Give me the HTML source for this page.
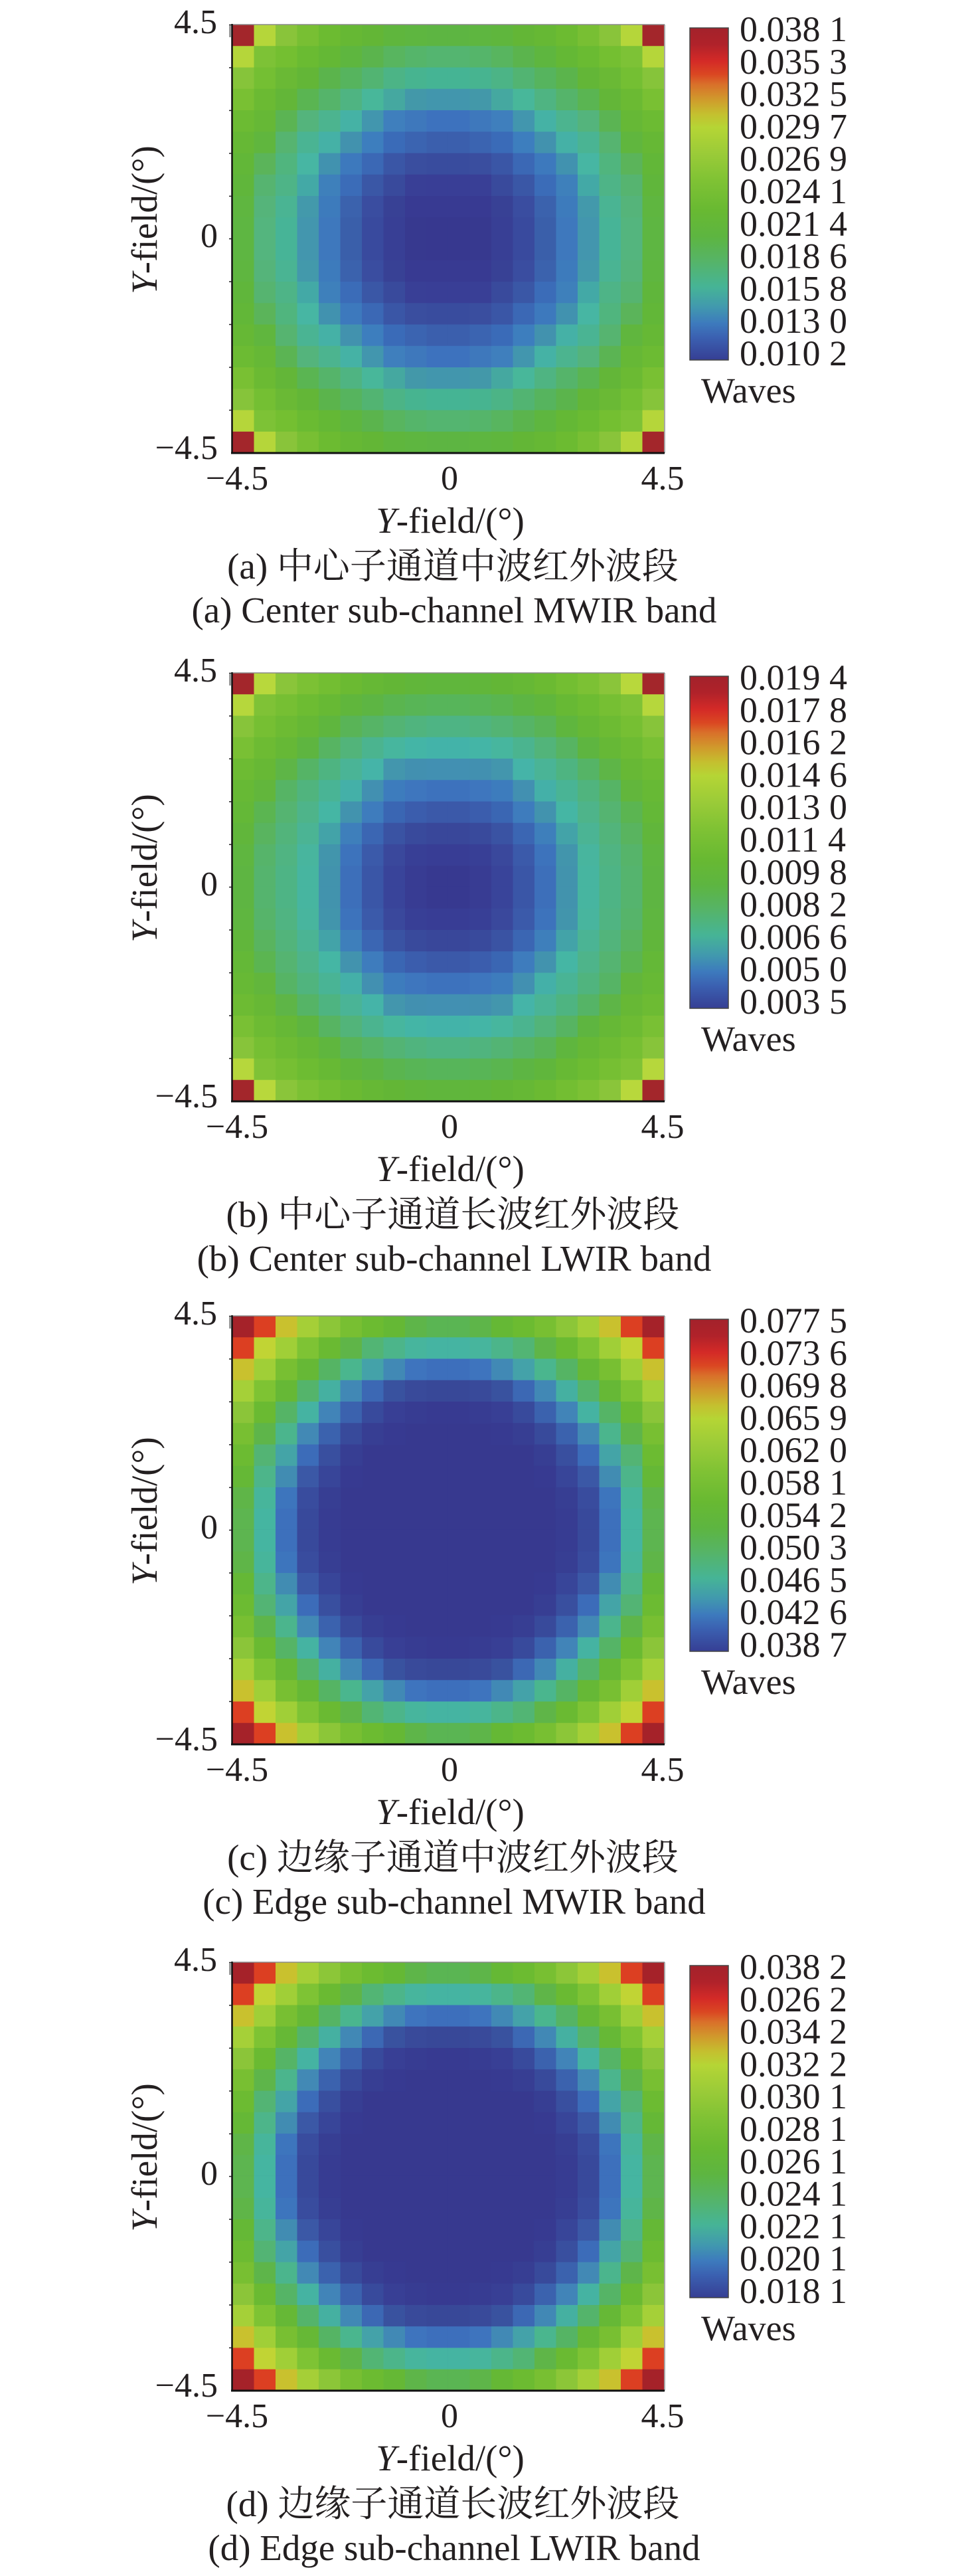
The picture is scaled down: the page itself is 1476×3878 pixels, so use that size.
<!DOCTYPE html>
<html>
<head>
<meta charset="utf-8">
<style>
html,body{margin:0;padding:0;background:#fff;}
svg{display:block;}
text{font-family:"Liberation Serif","Noto Serif CJK SC",serif;fill:#231f20;}
.tk{font-size:52px;}
.cb{font-size:54px;}
.ti{font-size:55px;}
</style>
</head>
<body>
<svg width="1476" height="3878" viewBox="0 0 1476 3878" xmlns="http://www.w3.org/2000/svg">
<defs>
<linearGradient id="cmap" x1="0" y1="0" x2="0" y2="1">
<stop offset="0" stop-color="#a3222b"/>
<stop offset="0.05" stop-color="#b0222a"/>
<stop offset="0.10" stop-color="#d42a27"/>
<stop offset="0.14" stop-color="#da4722"/>
<stop offset="0.17" stop-color="#d9702a"/>
<stop offset="0.22" stop-color="#cf9e2c"/>
<stop offset="0.26" stop-color="#c4c02f"/>
<stop offset="0.30" stop-color="#b5d535"/>
<stop offset="0.38" stop-color="#9acb38"/>
<stop offset="0.46" stop-color="#7fc234"/>
<stop offset="0.55" stop-color="#68b932"/>
<stop offset="0.63" stop-color="#5db541"/>
<stop offset="0.70" stop-color="#56b466"/>
<stop offset="0.78" stop-color="#46b496"/>
<stop offset="0.84" stop-color="#4199ae"/>
<stop offset="0.89" stop-color="#3d7abd"/>
<stop offset="0.93" stop-color="#3b62b2"/>
<stop offset="1" stop-color="#363f94"/>
</linearGradient>

<g id="qa">
<rect x="0" y="0" width="1.03" height="1.03" fill="#a3262b"/><rect x="1" y="0" width="1.03" height="1.03" fill="#b5d63a"/><rect x="2" y="0" width="1.03" height="1.03" fill="#89c43a"/><rect x="3" y="0" width="1.03" height="1.03" fill="#78bf33"/><rect x="4" y="0" width="1.03" height="1.03" fill="#6cbb31"/><rect x="5" y="0" width="1.03" height="1.03" fill="#66b834"/><rect x="6" y="0" width="1.03" height="1.03" fill="#63b636"/><rect x="7" y="0" width="1.03" height="1.03" fill="#5fb63d"/><rect x="8" y="0" width="1.03" height="1.03" fill="#5eb640"/><rect x="9" y="0" width="1.03" height="1.03" fill="#5db542"/>
<rect x="0" y="1" width="1.03" height="1.03" fill="#b5d63a"/><rect x="1" y="1" width="1.03" height="1.03" fill="#7dc236"/><rect x="2" y="1" width="1.03" height="1.03" fill="#74bf31"/><rect x="3" y="1" width="1.03" height="1.03" fill="#6abb32"/><rect x="4" y="1" width="1.03" height="1.03" fill="#64b835"/><rect x="5" y="1" width="1.03" height="1.03" fill="#5eb63f"/><rect x="6" y="1" width="1.03" height="1.03" fill="#5bb44d"/><rect x="7" y="1" width="1.03" height="1.03" fill="#58b55f"/><rect x="8" y="1" width="1.03" height="1.03" fill="#55b56a"/><rect x="9" y="1" width="1.03" height="1.03" fill="#54b570"/>
<rect x="0" y="2" width="1.03" height="1.03" fill="#86c43a"/><rect x="1" y="2" width="1.03" height="1.03" fill="#74bf33"/><rect x="2" y="2" width="1.03" height="1.03" fill="#6ab935"/><rect x="3" y="2" width="1.03" height="1.03" fill="#63b637"/><rect x="4" y="2" width="1.03" height="1.03" fill="#5bb44c"/><rect x="5" y="2" width="1.03" height="1.03" fill="#56b45e"/><rect x="6" y="2" width="1.03" height="1.03" fill="#52b472"/><rect x="7" y="2" width="1.03" height="1.03" fill="#4cb486"/><rect x="8" y="2" width="1.03" height="1.03" fill="#47b490"/><rect x="9" y="2" width="1.03" height="1.03" fill="#45b494"/>
<rect x="0" y="3" width="1.03" height="1.03" fill="#79c033"/><rect x="1" y="3" width="1.03" height="1.03" fill="#6bba33"/><rect x="2" y="3" width="1.03" height="1.03" fill="#63b638"/><rect x="3" y="3" width="1.03" height="1.03" fill="#5ab552"/><rect x="4" y="3" width="1.03" height="1.03" fill="#55b46a"/><rect x="5" y="3" width="1.03" height="1.03" fill="#4fb482"/><rect x="6" y="3" width="1.03" height="1.03" fill="#48b79a"/><rect x="7" y="3" width="1.03" height="1.03" fill="#45a8a0"/><rect x="8" y="3" width="1.03" height="1.03" fill="#4398a9"/><rect x="9" y="3" width="1.03" height="1.03" fill="#4296ad"/>
<rect x="0" y="4" width="1.03" height="1.03" fill="#6cbb33"/><rect x="1" y="4" width="1.03" height="1.03" fill="#66b836"/><rect x="2" y="4" width="1.03" height="1.03" fill="#5bb453"/><rect x="3" y="4" width="1.03" height="1.03" fill="#54b47c"/><rect x="4" y="4" width="1.03" height="1.03" fill="#4cb48f"/><rect x="5" y="4" width="1.03" height="1.03" fill="#45b2a5"/><rect x="6" y="4" width="1.03" height="1.03" fill="#4296ae"/><rect x="7" y="4" width="1.03" height="1.03" fill="#3f7fbd"/><rect x="8" y="4" width="1.03" height="1.03" fill="#3e78bc"/><rect x="9" y="4" width="1.03" height="1.03" fill="#3d72be"/>
<rect x="0" y="5" width="1.03" height="1.03" fill="#66b835"/><rect x="1" y="5" width="1.03" height="1.03" fill="#60b63e"/><rect x="2" y="5" width="1.03" height="1.03" fill="#56b470"/><rect x="3" y="5" width="1.03" height="1.03" fill="#4ab493"/><rect x="4" y="5" width="1.03" height="1.03" fill="#45b1a6"/><rect x="5" y="5" width="1.03" height="1.03" fill="#4292ae"/><rect x="6" y="5" width="1.03" height="1.03" fill="#3d7ebe"/><rect x="7" y="5" width="1.03" height="1.03" fill="#3a6bb8"/><rect x="8" y="5" width="1.03" height="1.03" fill="#3b64b1"/><rect x="9" y="5" width="1.03" height="1.03" fill="#3b5fad"/>
<rect x="0" y="6" width="1.03" height="1.03" fill="#62b738"/><rect x="1" y="6" width="1.03" height="1.03" fill="#5bb45a"/><rect x="2" y="6" width="1.03" height="1.03" fill="#50b57e"/><rect x="3" y="6" width="1.03" height="1.03" fill="#47b6a3"/><rect x="4" y="6" width="1.03" height="1.03" fill="#4192af"/><rect x="5" y="6" width="1.03" height="1.03" fill="#3d79bd"/><rect x="6" y="6" width="1.03" height="1.03" fill="#3b68b5"/><rect x="7" y="6" width="1.03" height="1.03" fill="#3a56a6"/><rect x="8" y="6" width="1.03" height="1.03" fill="#3a4e9f"/><rect x="9" y="6" width="1.03" height="1.03" fill="#394c9e"/>
<rect x="0" y="7" width="1.03" height="1.03" fill="#60b63b"/><rect x="1" y="7" width="1.03" height="1.03" fill="#56b470"/><rect x="2" y="7" width="1.03" height="1.03" fill="#4eb487"/><rect x="3" y="7" width="1.03" height="1.03" fill="#43a9a6"/><rect x="4" y="7" width="1.03" height="1.03" fill="#3e80bb"/><rect x="5" y="7" width="1.03" height="1.03" fill="#3b6cb8"/><rect x="6" y="7" width="1.03" height="1.03" fill="#3a57a6"/><rect x="7" y="7" width="1.03" height="1.03" fill="#394a9c"/><rect x="8" y="7" width="1.03" height="1.03" fill="#393f96"/><rect x="9" y="7" width="1.03" height="1.03" fill="#393e96"/>
<rect x="0" y="8" width="1.03" height="1.03" fill="#5fb640"/><rect x="1" y="8" width="1.03" height="1.03" fill="#55b47a"/><rect x="2" y="8" width="1.03" height="1.03" fill="#4ab493"/><rect x="3" y="8" width="1.03" height="1.03" fill="#4399ab"/><rect x="4" y="8" width="1.03" height="1.03" fill="#3d7bbc"/><rect x="5" y="8" width="1.03" height="1.03" fill="#3b62ad"/><rect x="6" y="8" width="1.03" height="1.03" fill="#3a4da0"/><rect x="7" y="8" width="1.03" height="1.03" fill="#384195"/><rect x="8" y="8" width="1.03" height="1.03" fill="#383a92"/><rect x="9" y="8" width="1.03" height="1.03" fill="#383a92"/>
<rect x="0" y="9" width="1.03" height="1.03" fill="#5eb642"/><rect x="1" y="9" width="1.03" height="1.03" fill="#54b57e"/><rect x="2" y="9" width="1.03" height="1.03" fill="#47b497"/><rect x="3" y="9" width="1.03" height="1.03" fill="#4396ae"/><rect x="4" y="9" width="1.03" height="1.03" fill="#3e78bd"/><rect x="5" y="9" width="1.03" height="1.03" fill="#3a5faa"/><rect x="6" y="9" width="1.03" height="1.03" fill="#394a9e"/><rect x="7" y="9" width="1.03" height="1.03" fill="#383f95"/><rect x="8" y="9" width="1.03" height="1.03" fill="#37398f"/><rect x="9" y="9" width="1.03" height="1.03" fill="#37388f"/>
</g>

<g id="qb">
<rect x="0" y="0" width="1.03" height="1.03" fill="#a3262b"/><rect x="1" y="0" width="1.03" height="1.03" fill="#b8d83c"/><rect x="2" y="0" width="1.03" height="1.03" fill="#8ac53a"/><rect x="3" y="0" width="1.03" height="1.03" fill="#7cc134"/><rect x="4" y="0" width="1.03" height="1.03" fill="#73be32"/><rect x="5" y="0" width="1.03" height="1.03" fill="#6bba32"/><rect x="6" y="0" width="1.03" height="1.03" fill="#66b835"/><rect x="7" y="0" width="1.03" height="1.03" fill="#63b636"/><rect x="8" y="0" width="1.03" height="1.03" fill="#61b63a"/><rect x="9" y="0" width="1.03" height="1.03" fill="#60b63c"/>
<rect x="0" y="1" width="1.03" height="1.03" fill="#b6d73c"/><rect x="1" y="1" width="1.03" height="1.03" fill="#7fc236"/><rect x="2" y="1" width="1.03" height="1.03" fill="#76bf33"/><rect x="3" y="1" width="1.03" height="1.03" fill="#6dbc32"/><rect x="4" y="1" width="1.03" height="1.03" fill="#67b934"/><rect x="5" y="1" width="1.03" height="1.03" fill="#60b63c"/><rect x="6" y="1" width="1.03" height="1.03" fill="#5db543"/><rect x="7" y="1" width="1.03" height="1.03" fill="#5ab54f"/><rect x="8" y="1" width="1.03" height="1.03" fill="#58b556"/><rect x="9" y="1" width="1.03" height="1.03" fill="#57b55a"/>
<rect x="0" y="2" width="1.03" height="1.03" fill="#87c43a"/><rect x="1" y="2" width="1.03" height="1.03" fill="#76bf33"/><rect x="2" y="2" width="1.03" height="1.03" fill="#6dbb33"/><rect x="3" y="2" width="1.03" height="1.03" fill="#66b835"/><rect x="4" y="2" width="1.03" height="1.03" fill="#5fb63e"/><rect x="5" y="2" width="1.03" height="1.03" fill="#59b457"/><rect x="6" y="2" width="1.03" height="1.03" fill="#56b466"/><rect x="7" y="2" width="1.03" height="1.03" fill="#53b474"/><rect x="8" y="2" width="1.03" height="1.03" fill="#50b47e"/><rect x="9" y="2" width="1.03" height="1.03" fill="#4eb484"/>
<rect x="0" y="3" width="1.03" height="1.03" fill="#79c034"/><rect x="1" y="3" width="1.03" height="1.03" fill="#6dbb33"/><rect x="2" y="3" width="1.03" height="1.03" fill="#66b836"/><rect x="3" y="3" width="1.03" height="1.03" fill="#5eb540"/><rect x="4" y="3" width="1.03" height="1.03" fill="#57b462"/><rect x="5" y="3" width="1.03" height="1.03" fill="#52b47a"/><rect x="6" y="3" width="1.03" height="1.03" fill="#4bb48f"/><rect x="7" y="3" width="1.03" height="1.03" fill="#47b69e"/><rect x="8" y="3" width="1.03" height="1.03" fill="#44b5a6"/><rect x="9" y="3" width="1.03" height="1.03" fill="#43b3a9"/>
<rect x="0" y="4" width="1.03" height="1.03" fill="#6dbb33"/><rect x="1" y="4" width="1.03" height="1.03" fill="#67b835"/><rect x="2" y="4" width="1.03" height="1.03" fill="#5eb547"/><rect x="3" y="4" width="1.03" height="1.03" fill="#55b466"/><rect x="4" y="4" width="1.03" height="1.03" fill="#4eb481"/><rect x="5" y="4" width="1.03" height="1.03" fill="#4ab496"/><rect x="6" y="4" width="1.03" height="1.03" fill="#45b4a8"/><rect x="7" y="4" width="1.03" height="1.03" fill="#4396ad"/><rect x="8" y="4" width="1.03" height="1.03" fill="#4290b0"/><rect x="9" y="4" width="1.03" height="1.03" fill="#4290b2"/>
<rect x="0" y="5" width="1.03" height="1.03" fill="#67b935"/><rect x="1" y="5" width="1.03" height="1.03" fill="#62b63c"/><rect x="2" y="5" width="1.03" height="1.03" fill="#56b465"/><rect x="3" y="5" width="1.03" height="1.03" fill="#50b47e"/><rect x="4" y="5" width="1.03" height="1.03" fill="#49b495"/><rect x="5" y="5" width="1.03" height="1.03" fill="#44b0a8"/><rect x="6" y="5" width="1.03" height="1.03" fill="#4290b1"/><rect x="7" y="5" width="1.03" height="1.03" fill="#3d7cbd"/><rect x="8" y="5" width="1.03" height="1.03" fill="#3e76be"/><rect x="9" y="5" width="1.03" height="1.03" fill="#3d72bd"/>
<rect x="0" y="6" width="1.03" height="1.03" fill="#64b837"/><rect x="1" y="6" width="1.03" height="1.03" fill="#5bb551"/><rect x="2" y="6" width="1.03" height="1.03" fill="#55b471"/><rect x="3" y="6" width="1.03" height="1.03" fill="#4eb48a"/><rect x="4" y="6" width="1.03" height="1.03" fill="#45b6a4"/><rect x="5" y="6" width="1.03" height="1.03" fill="#4293ae"/><rect x="6" y="6" width="1.03" height="1.03" fill="#3e7cbd"/><rect x="7" y="6" width="1.03" height="1.03" fill="#3a66b3"/><rect x="8" y="6" width="1.03" height="1.03" fill="#3b5dad"/><rect x="9" y="6" width="1.03" height="1.03" fill="#3b59a9"/>
<rect x="0" y="7" width="1.03" height="1.03" fill="#61b63b"/><rect x="1" y="7" width="1.03" height="1.03" fill="#59b45f"/><rect x="2" y="7" width="1.03" height="1.03" fill="#52b47b"/><rect x="3" y="7" width="1.03" height="1.03" fill="#4bb494"/><rect x="4" y="7" width="1.03" height="1.03" fill="#43a3a8"/><rect x="5" y="7" width="1.03" height="1.03" fill="#3e7fbb"/><rect x="6" y="7" width="1.03" height="1.03" fill="#3b66b3"/><rect x="7" y="7" width="1.03" height="1.03" fill="#3a53a3"/><rect x="8" y="7" width="1.03" height="1.03" fill="#394a9c"/><rect x="9" y="7" width="1.03" height="1.03" fill="#39479a"/>
<rect x="0" y="8" width="1.03" height="1.03" fill="#5fb640"/><rect x="1" y="8" width="1.03" height="1.03" fill="#56b46a"/><rect x="2" y="8" width="1.03" height="1.03" fill="#50b482"/><rect x="3" y="8" width="1.03" height="1.03" fill="#48b59e"/><rect x="4" y="8" width="1.03" height="1.03" fill="#4295ac"/><rect x="5" y="8" width="1.03" height="1.03" fill="#3d73bc"/><rect x="6" y="8" width="1.03" height="1.03" fill="#3b5aaa"/><rect x="7" y="8" width="1.03" height="1.03" fill="#3a489c"/><rect x="8" y="8" width="1.03" height="1.03" fill="#383f96"/><rect x="9" y="8" width="1.03" height="1.03" fill="#383d95"/>
<rect x="0" y="9" width="1.03" height="1.03" fill="#5eb542"/><rect x="1" y="9" width="1.03" height="1.03" fill="#55b46e"/><rect x="2" y="9" width="1.03" height="1.03" fill="#4eb485"/><rect x="3" y="9" width="1.03" height="1.03" fill="#47b5a0"/><rect x="4" y="9" width="1.03" height="1.03" fill="#4293ad"/><rect x="5" y="9" width="1.03" height="1.03" fill="#3d6fba"/><rect x="6" y="9" width="1.03" height="1.03" fill="#3a56a7"/><rect x="7" y="9" width="1.03" height="1.03" fill="#39449a"/><rect x="8" y="9" width="1.03" height="1.03" fill="#383c93"/><rect x="9" y="9" width="1.03" height="1.03" fill="#373990"/>
</g>

<g id="qc">
<rect x="0" y="0" width="10.03" height="10.03" fill="#37398f"/>
<rect x="0" y="0" width="1.03" height="1.03" fill="#a52229"/><rect x="1" y="0" width="1.03" height="1.03" fill="#dc3f22"/><rect x="2" y="0" width="1.03" height="1.03" fill="#c9c12e"/><rect x="3" y="0" width="1.03" height="1.03" fill="#a5cf37"/><rect x="4" y="0" width="1.03" height="1.03" fill="#8cc638"/><rect x="5" y="0" width="1.03" height="1.03" fill="#78bf32"/><rect x="6" y="0" width="1.03" height="1.03" fill="#6cbb31"/><rect x="7" y="0" width="1.03" height="1.03" fill="#65b835"/><rect x="8" y="0" width="1.03" height="1.03" fill="#5eb549"/><rect x="9" y="0" width="1.03" height="1.03" fill="#5ab553"/>
<rect x="0" y="1" width="1.03" height="1.03" fill="#dc3f22"/><rect x="1" y="1" width="1.03" height="1.03" fill="#c1d434"/><rect x="2" y="1" width="1.03" height="1.03" fill="#a0cf37"/><rect x="3" y="1" width="1.03" height="1.03" fill="#7ec334"/><rect x="4" y="1" width="1.03" height="1.03" fill="#6aba32"/><rect x="5" y="1" width="1.03" height="1.03" fill="#5fb548"/><rect x="6" y="1" width="1.03" height="1.03" fill="#52b574"/><rect x="7" y="1" width="1.03" height="1.03" fill="#4cb58a"/><rect x="8" y="1" width="1.03" height="1.03" fill="#47b59d"/><rect x="9" y="1" width="1.03" height="1.03" fill="#45b4a2"/>
<rect x="0" y="2" width="1.03" height="1.03" fill="#c9c12e"/><rect x="1" y="2" width="1.03" height="1.03" fill="#a0cf37"/><rect x="2" y="2" width="1.03" height="1.03" fill="#78bf32"/><rect x="3" y="2" width="1.03" height="1.03" fill="#66b836"/><rect x="4" y="2" width="1.03" height="1.03" fill="#55b464"/><rect x="5" y="2" width="1.03" height="1.03" fill="#4ab68e"/><rect x="6" y="2" width="1.03" height="1.03" fill="#44a2a9"/><rect x="7" y="2" width="1.03" height="1.03" fill="#4189b5"/><rect x="8" y="2" width="1.03" height="1.03" fill="#3e74be"/><rect x="9" y="2" width="1.03" height="1.03" fill="#3d6fbc"/>
<rect x="0" y="3" width="1.03" height="1.03" fill="#a5d038"/><rect x="1" y="3" width="1.03" height="1.03" fill="#7ec333"/><rect x="2" y="3" width="1.03" height="1.03" fill="#66b836"/><rect x="3" y="3" width="1.03" height="1.03" fill="#54b46b"/><rect x="4" y="3" width="1.03" height="1.03" fill="#45b0a1"/><rect x="5" y="3" width="1.03" height="1.03" fill="#4188b5"/><rect x="6" y="3" width="1.03" height="1.03" fill="#3c68b4"/><rect x="7" y="3" width="1.03" height="1.03" fill="#39529f"/><rect x="8" y="3" width="1.03" height="1.03" fill="#394a9a"/><rect x="9" y="3" width="1.03" height="1.03" fill="#384898"/>
<rect x="0" y="4" width="1.03" height="1.03" fill="#8bc539"/><rect x="1" y="4" width="1.03" height="1.03" fill="#6aba32"/><rect x="2" y="4" width="1.03" height="1.03" fill="#55b466"/><rect x="3" y="4" width="1.03" height="1.03" fill="#45b3a2"/><rect x="4" y="4" width="1.03" height="1.03" fill="#4184b8"/><rect x="5" y="4" width="1.03" height="1.03" fill="#3b62ae"/><rect x="6" y="4" width="1.03" height="1.03" fill="#384a9c"/><rect x="7" y="4" width="1.03" height="1.03" fill="#383f95"/><rect x="8" y="4" width="1.03" height="1.03" fill="#373c92"/><rect x="9" y="4" width="1.03" height="1.03" fill="#373a91"/>
<rect x="0" y="5" width="1.03" height="1.03" fill="#78bf32"/><rect x="1" y="5" width="1.03" height="1.03" fill="#5eb54a"/><rect x="2" y="5" width="1.03" height="1.03" fill="#4bb58d"/><rect x="3" y="5" width="1.03" height="1.03" fill="#4289b5"/><rect x="4" y="5" width="1.03" height="1.03" fill="#3b62ae"/><rect x="5" y="5" width="1.03" height="1.03" fill="#384a9b"/><rect x="6" y="5" width="1.03" height="1.03" fill="#373e93"/><rect x="7" y="5" width="1.03" height="1.03" fill="#373a91"/>
<rect x="0" y="6" width="1.03" height="1.03" fill="#6cbb32"/><rect x="1" y="6" width="1.03" height="1.03" fill="#53b474"/><rect x="2" y="6" width="1.03" height="1.03" fill="#44a4a7"/><rect x="3" y="6" width="1.03" height="1.03" fill="#3c6cb9"/><rect x="4" y="6" width="1.03" height="1.03" fill="#394f9f"/><rect x="5" y="6" width="1.03" height="1.03" fill="#373e93"/>
<rect x="0" y="7" width="1.03" height="1.03" fill="#65b836"/><rect x="1" y="7" width="1.03" height="1.03" fill="#4db58a"/><rect x="2" y="7" width="1.03" height="1.03" fill="#418cb2"/><rect x="3" y="7" width="1.03" height="1.03" fill="#3b58a6"/><rect x="4" y="7" width="1.03" height="1.03" fill="#384599"/><rect x="5" y="7" width="1.03" height="1.03" fill="#373a91"/>
<rect x="0" y="8" width="1.03" height="1.03" fill="#5fb548"/><rect x="1" y="8" width="1.03" height="1.03" fill="#47b59b"/><rect x="2" y="8" width="1.03" height="1.03" fill="#3d75bd"/><rect x="3" y="8" width="1.03" height="1.03" fill="#394c9e"/><rect x="4" y="8" width="1.03" height="1.03" fill="#373e93"/>
<rect x="0" y="9" width="1.03" height="1.03" fill="#5db550"/><rect x="1" y="9" width="1.03" height="1.03" fill="#45b5a1"/><rect x="2" y="9" width="1.03" height="1.03" fill="#3d70bc"/><rect x="3" y="9" width="1.03" height="1.03" fill="#38499b"/><rect x="4" y="9" width="1.03" height="1.03" fill="#373c92"/>
</g>

<g id="frame">
<line x1="350" y1="37" x2="1001" y2="37" stroke="#8a8a8a" stroke-width="1.5"/>
<line x1="1001" y1="37" x2="1001" y2="682" stroke="#8a8a8a" stroke-width="1.5"/>
<line x1="349.5" y1="36" x2="349.5" y2="683" stroke="#111" stroke-width="2.5"/>
<line x1="348" y1="682" x2="1001" y2="682" stroke="#111" stroke-width="3"/>
<path d="M345 37.5h4M345 101.9h4M345 166.4h4M345 230.9h4M345 295.4h4M345 359.5h4M345 424h4M345 488.5h4M345 553h4M345 617.5h4" stroke="#222" stroke-width="1.5"/>
<rect x="345" y="38" width="3" height="18" fill="#9a9a9a"/>
<rect x="1039" y="42" width="58" height="500" fill="url(#cmap)" stroke="#444" stroke-width="1.5"/>
<text class="tk" x="327" y="50" text-anchor="end">4.5</text>
<text class="tk" x="328" y="372" text-anchor="end">0</text>
<text class="tk" x="328" y="691" text-anchor="end">−4.5</text>
<text class="tk" x="357" y="737" text-anchor="middle">−4.5</text>
<text class="tk" x="677" y="737" text-anchor="middle">0</text>
<text class="tk" x="998" y="737" text-anchor="middle">4.5</text>
<text class="ti" x="678" y="802" text-anchor="middle"><tspan font-style="italic">Y</tspan>-field/(°)</text>
<text class="ti" transform="translate(236,331) rotate(-90)" text-anchor="middle"><tspan font-style="italic">Y</tspan>-field/(°)</text>
<text class="cb" x="1056" y="606">Waves</text>
</g>
</defs>

<!-- Panel a -->
<g transform="translate(350,37) scale(32.5,32.25)">
<use href="#qa"/>
<use href="#qa" transform="translate(20,0) scale(-1,1)"/>
<use href="#qa" transform="translate(0,20) scale(1,-1)"/>
<use href="#qa" transform="translate(20,20) scale(-1,-1)"/>
</g>
<use href="#frame"/>
<g class="cb">
<text class="cb" x="1114" y="62">0.038 1</text>
<text class="cb" x="1114" y="110.8">0.035 3</text>
<text class="cb" x="1114" y="159.6">0.032 5</text>
<text class="cb" x="1114" y="208.4">0.029 7</text>
<text class="cb" x="1114" y="257.2">0.026 9</text>
<text class="cb" x="1114" y="306">0.024 1</text>
<text class="cb" x="1114" y="354.8">0.021 4</text>
<text class="cb" x="1114" y="403.6">0.018 6</text>
<text class="cb" x="1114" y="452.4">0.015 8</text>
<text class="cb" x="1114" y="501.2">0.013 0</text>
<text class="cb" x="1114" y="550">0.010 2</text>
</g>
<text class="ti" x="682" y="871" text-anchor="middle">(a) 中心子通道中波红外波段</text>
<text class="ti" x="684" y="937" text-anchor="middle">(a) Center sub-channel MWIR band</text>

<!-- Panel b -->
<g transform="translate(0,976)">
<g transform="translate(350,37) scale(32.5,32.25)">
<use href="#qb"/>
<use href="#qb" transform="translate(20,0) scale(-1,1)"/>
<use href="#qb" transform="translate(0,20) scale(1,-1)"/>
<use href="#qb" transform="translate(20,20) scale(-1,-1)"/>
</g>
<use href="#frame"/>
<text class="cb" x="1114" y="62">0.019 4</text>
<text class="cb" x="1114" y="110.8">0.017 8</text>
<text class="cb" x="1114" y="159.6">0.016 2</text>
<text class="cb" x="1114" y="208.4">0.014 6</text>
<text class="cb" x="1114" y="257.2">0.013 0</text>
<text class="cb" x="1114" y="306">0.011 4</text>
<text class="cb" x="1114" y="354.8">0.009 8</text>
<text class="cb" x="1114" y="403.6">0.008 2</text>
<text class="cb" x="1114" y="452.4">0.006 6</text>
<text class="cb" x="1114" y="501.2">0.005 0</text>
<text class="cb" x="1114" y="550">0.003 5</text>
<text class="ti" x="682" y="871" text-anchor="middle">(b) 中心子通道长波红外波段</text>
<text class="ti" x="684" y="937" text-anchor="middle">(b) Center sub-channel LWIR band</text>
</g>

<!-- Panel c -->
<g transform="translate(0,1944)">
<g transform="translate(350,37) scale(32.5,32.25)">
<use href="#qc"/>
<use href="#qc" transform="translate(20,0) scale(-1,1)"/>
<use href="#qc" transform="translate(0,20) scale(1,-1)"/>
<use href="#qc" transform="translate(20,20) scale(-1,-1)"/>
</g>
<use href="#frame"/>
<text class="cb" x="1114" y="62">0.077 5</text>
<text class="cb" x="1114" y="110.8">0.073 6</text>
<text class="cb" x="1114" y="159.6">0.069 8</text>
<text class="cb" x="1114" y="208.4">0.065 9</text>
<text class="cb" x="1114" y="257.2">0.062 0</text>
<text class="cb" x="1114" y="306">0.058 1</text>
<text class="cb" x="1114" y="354.8">0.054 2</text>
<text class="cb" x="1114" y="403.6">0.050 3</text>
<text class="cb" x="1114" y="452.4">0.046 5</text>
<text class="cb" x="1114" y="501.2">0.042 6</text>
<text class="cb" x="1114" y="550">0.038 7</text>
<text class="ti" x="682" y="871" text-anchor="middle">(c) 边缘子通道中波红外波段</text>
<text class="ti" x="684" y="937" text-anchor="middle">(c) Edge sub-channel MWIR band</text>
</g>

<!-- Panel d -->
<g transform="translate(0,2917)">
<g transform="translate(350,37) scale(32.5,32.25)">
<use href="#qc"/>
<use href="#qc" transform="translate(20,0) scale(-1,1)"/>
<use href="#qc" transform="translate(0,20) scale(1,-1)"/>
<use href="#qc" transform="translate(20,20) scale(-1,-1)"/>
</g>
<use href="#frame"/>
<text class="cb" x="1114" y="62">0.038 2</text>
<text class="cb" x="1114" y="110.8">0.026 2</text>
<text class="cb" x="1114" y="159.6">0.034 2</text>
<text class="cb" x="1114" y="208.4">0.032 2</text>
<text class="cb" x="1114" y="257.2">0.030 1</text>
<text class="cb" x="1114" y="306">0.028 1</text>
<text class="cb" x="1114" y="354.8">0.026 1</text>
<text class="cb" x="1114" y="403.6">0.024 1</text>
<text class="cb" x="1114" y="452.4">0.022 1</text>
<text class="cb" x="1114" y="501.2">0.020 1</text>
<text class="cb" x="1114" y="550">0.018 1</text>
<text class="ti" x="682" y="871" text-anchor="middle">(d) 边缘子通道长波红外波段</text>
<text class="ti" x="684" y="937" text-anchor="middle">(d) Edge sub-channel LWIR band</text>
</g>
</svg>
</body>
</html>
